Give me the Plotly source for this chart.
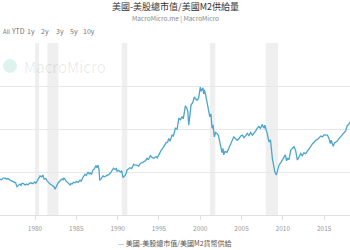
import plotly.graph_objects as go

# ---- data (decimal year, ratio of US stock market cap to M2) ----
years = [1975.52, 1975.76, 1975.95, 1976.15, 1976.37, 1976.55, 1976.75, 1976.97, 1977.20, 1977.46,
         1977.65, 1977.82, 1978.00, 1978.18, 1978.30, 1978.43, 1978.60, 1978.79, 1979.00, 1979.15,
         1979.27, 1979.50, 1979.76, 1979.95, 1980.10, 1980.24, 1980.45, 1980.61, 1980.80, 1980.95,
         1981.09, 1981.30, 1981.45, 1981.65, 1981.82, 1982.00, 1982.15, 1982.30, 1982.42, 1982.60,
         1982.78, 1982.95, 1983.10, 1983.27, 1983.40, 1983.51, 1983.65, 1983.75, 1983.95, 1984.10,
         1984.24, 1984.35, 1984.48, 1984.65, 1984.84, 1985.00, 1985.20, 1985.45, 1985.60, 1985.81,
         1986.05, 1986.20, 1986.42, 1986.55, 1986.66, 1986.85, 1987.02, 1987.20, 1987.38, 1987.50,
         1987.62, 1987.75, 1987.83, 1988.00, 1988.23, 1988.40, 1988.60, 1988.84, 1989.00, 1989.20,
         1989.35, 1989.50, 1989.69, 1989.85, 1989.93, 1990.10, 1990.33, 1990.50, 1990.65, 1990.80,
         1990.90, 1991.05, 1991.14, 1991.30, 1991.50, 1991.70, 1991.95, 1992.10, 1992.35, 1992.55,
         1992.75, 1993.00, 1993.20, 1993.40, 1993.56, 1993.75, 1993.96, 1994.15, 1994.37, 1994.55,
         1994.65, 1994.80, 1994.97, 1995.25, 1995.45, 1995.58, 1995.75, 1995.86, 1996.05, 1996.19,
         1996.35, 1996.50, 1996.59, 1996.75, 1996.99, 1997.20, 1997.40, 1997.60, 1997.80, 1997.95,
         1998.20, 1998.40, 1998.50, 1998.61, 1998.75, 1998.89, 1999.10, 1999.29, 1999.45, 1999.61,
         1999.80, 2000.01, 2000.12, 2000.22, 2000.34, 2000.42, 2000.50, 2000.65, 2000.82, 2001.00,
         2001.15, 2001.30, 2001.43, 2001.55, 2001.71, 2001.85, 2002.03, 2002.20, 2002.43, 2002.55,
         2002.64, 2002.75, 2002.84, 2003.00, 2003.24, 2003.45, 2003.64, 2003.85, 2004.06, 2004.25,
         2004.49, 2004.70, 2004.90, 2005.10, 2005.30, 2005.50, 2005.70, 2005.90, 2006.10, 2006.31,
         2006.50, 2006.70, 2006.91, 2007.10, 2007.30, 2007.52, 2007.62, 2007.72, 2007.82, 2007.93,
         2008.10, 2008.33, 2008.50, 2008.73, 2008.85, 2009.02, 2009.21, 2009.35, 2009.54, 2009.75,
         2009.95, 2010.15, 2010.30, 2010.45, 2010.55, 2010.75, 2010.96, 2011.15, 2011.36, 2011.55,
         2011.76, 2011.95, 2012.17, 2012.35, 2012.55, 2012.77, 2013.00, 2013.20, 2013.38, 2013.60,
         2013.80, 2013.98, 2014.20, 2014.40, 2014.59, 2014.80, 2015.00, 2015.19, 2015.40, 2015.59,
         2015.75, 2015.85, 2015.99, 2016.10, 2016.25, 2016.40, 2016.60, 2016.80, 2017.00, 2017.20,
         2017.40, 2017.60, 2017.81, 2017.95, 2018.13]
ratio = [0.85, 0.84, 0.82, 0.86, 0.86, 0.84, 0.85, 0.81, 0.79, 0.76,
         0.75, 0.66, 0.69, 0.72, 0.69, 0.74, 0.73, 0.70, 0.72, 0.70,
         0.73, 0.75, 0.73, 0.77, 0.74, 0.78, 0.86, 0.91, 0.89, 0.93,
         0.84, 0.85, 0.80, 0.74, 0.72, 0.70, 0.68, 0.66, 0.60, 0.68,
         0.74, 0.78, 0.80, 0.84, 0.82, 0.86, 0.83, 0.79, 0.76, 0.72,
         0.70, 0.73, 0.72, 0.76, 0.75, 0.78, 0.76, 0.81, 0.79, 0.88,
         0.95, 0.92, 1.00, 0.96, 0.98, 0.95, 1.05, 1.08, 1.15, 1.10,
         1.16, 1.05, 0.81, 0.84, 0.91, 0.89, 0.91, 0.93, 0.95, 1.00,
         1.04, 1.09, 1.06, 1.08, 1.02, 1.04, 1.00, 1.03, 0.87, 0.90,
         0.92, 0.98, 1.05, 1.07, 1.10, 1.08, 1.18, 1.16, 1.16, 1.14,
         1.20, 1.22, 1.25, 1.27, 1.32, 1.30, 1.38, 1.34, 1.32, 1.35,
         1.36, 1.33, 1.40, 1.50, 1.55, 1.59, 1.62, 1.68, 1.70, 1.78,
         1.72, 1.80, 1.86, 1.84, 2.02, 2.00, 2.25, 2.22, 2.29, 2.24,
         2.54, 2.48, 2.40, 2.09, 2.30, 2.56, 2.62, 2.75, 2.70, 2.67,
         2.72, 2.98, 2.88, 2.91, 2.96, 2.82, 2.91, 2.80, 2.64, 2.50,
         2.29, 2.35, 2.02, 2.10, 1.82, 1.92, 1.90, 1.85, 1.67, 1.52,
         1.45, 1.55, 1.40, 1.48, 1.46, 1.55, 1.63, 1.70, 1.82, 1.78,
         1.74, 1.78, 1.84, 1.86, 1.80, 1.85, 1.90, 1.85, 1.92, 1.86,
         1.90, 1.95, 2.02, 2.06, 2.02, 2.11, 2.05, 2.03, 2.09, 1.98,
         1.90, 1.70, 1.75, 1.32, 1.15, 1.01, 0.93, 1.05, 1.16, 1.22,
         1.28, 1.36, 1.40, 1.26, 1.32, 1.30, 1.51, 1.55, 1.59, 1.50,
         1.28, 1.35, 1.43, 1.38, 1.45, 1.43, 1.50, 1.55, 1.59, 1.66,
         1.70, 1.74, 1.76, 1.80, 1.84, 1.82, 1.87, 1.86, 1.86, 1.78,
         1.66, 1.74, 1.63, 1.60, 1.68, 1.70, 1.72, 1.78, 1.82, 1.86,
         1.90, 1.96, 2.09, 2.10, 2.17]

recession_start = [1980.00, 1981.50, 1990.50, 2001.17, 2007.92]
recession_end = [1980.50, 1982.83, 1991.17, 2001.83, 2009.42]

tick_years = [1980, 1985, 1990, 1995, 2000, 2005, 2010, 2015]
range_buttons = ["All", "YTD", "1y", "2y", "3y", "5y", "10y"]
button_x = [1, 18, 31, 45, 60, 74, 89]

series_name = "美國-美股總市值/美國M2貨幣供給"
title_text = "美國-美股總市值/美國M2供給量"
subtitle_text = "MacroMicro.me | MacroMicro"

W, H = 350, 250
T, B = 43, 35
FONT = "Noto Sans CJK TC, Noto Sans, sans-serif"
LINE_COLOR = "#4aa6cc"

fig = go.Figure()
fig.add_trace(go.Scatter(x=years, y=ratio, mode="lines", name=series_name,
                         line=dict(color=LINE_COLOR, width=1.3), showlegend=False))

for s, e in zip(recession_start, recession_end):
    fig.add_shape(type="rect", xref="x", yref="paper", x0=s, x1=e, y0=0, y1=1,
                  fillcolor="#efefef", line=dict(width=0), layer="below")

fig.update_layout(
    width=W, height=H,
    margin=dict(l=0, r=0, t=T, b=B, pad=0),
    paper_bgcolor="white", plot_bgcolor="white",
    font=dict(family=FONT, color="#888"),
    showlegend=False,
    xaxis=dict(range=[1975.76, 2018.13], tickvals=tick_years, ticktext=[str(t) for t in tick_years],
               showgrid=False, zeroline=False, showline=True, linecolor="#e0e0e0", linewidth=1,
               ticks="outside", ticklen=4, tickcolor="#e0e0e0", ticklabelstandoff=3,
               tickfont=dict(size=6.5, color="#999")),
    yaxis=dict(range=[0, 4.005], dtick=1, showticklabels=False, showgrid=True, gridcolor="#e8e8e8",
               zeroline=False, showline=False),
)

plot_h = H - T - B
def py(pix):  # pixel y -> paper y
    return (H - B - pix) / plot_h

annotations = [
    dict(text=title_text, x=0.5, y=py(6.5), xref="paper", yref="paper", showarrow=False,
         xanchor="center", yanchor="middle", font=dict(size=9, color="#333", family=FONT)),
    dict(text=subtitle_text, x=0.5, y=py(18.5), xref="paper", yref="paper", showarrow=False,
         xanchor="center", yanchor="middle", font=dict(size=6.5, color="#888", family=FONT)),
    dict(text="MacroMicro", x=22 / W, y=py(66), xref="paper", yref="paper", showarrow=False,
         xanchor="left", yanchor="middle", font=dict(size=15, color="rgba(0,0,0,0.09)", family=FONT)),
    dict(text=f'<span style="color:{LINE_COLOR}">—</span> {series_name}', x=0.5, y=py(243),
         xref="paper", yref="paper", showarrow=False, xanchor="center", yanchor="middle",
         font=dict(size=7, color="#555", family=FONT)),
]
for lbl, bx in zip(range_buttons, button_x):
    annotations.append(dict(text=lbl, x=bx / W, y=py(31), xref="paper", yref="paper", showarrow=False,
                            xanchor="left" if lbl == "All" else "center", yanchor="middle",
                            font=dict(size=6 if lbl == "All" else 7, color="#777", family=FONT)))
fig.update_layout(annotations=annotations)
fig.add_shape(type="circle", xref="paper", yref="paper", x0=3 / W, x1=17 / W, y0=py(73), y1=py(59),
              fillcolor="rgba(80,190,160,0.18)", line=dict(width=0), layer="above")

fig.write_html("out.html")
